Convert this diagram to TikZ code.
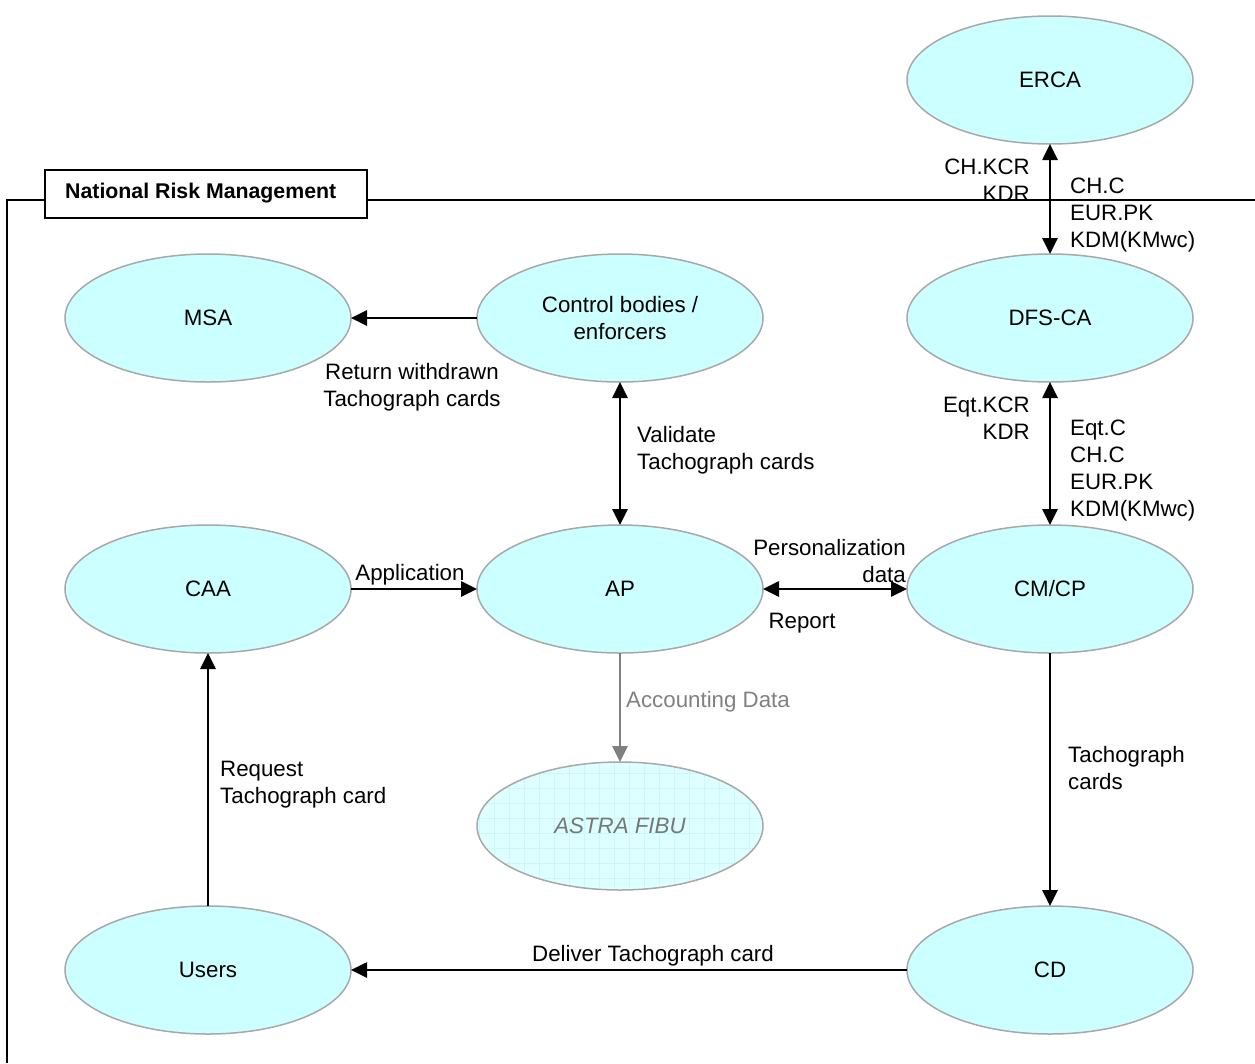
\documentclass[tikz,border=0pt]{standalone}
\usepackage{fontspec}
\setmainfont{Liberation Sans}
\usetikzlibrary{shapes.geometric,arrows.meta}
\definecolor{nodefill}{HTML}{CCFFFF}
\definecolor{nodeline}{HTML}{A8A8A8}
\definecolor{astrafill}{HTML}{DDFFFF}
\definecolor{astragrid}{HTML}{CDF6F6}
\definecolor{grayarrow}{HTML}{808080}
\definecolor{astratext}{HTML}{777777}
\tikzset{
  proc/.style={ellipse, draw=nodeline, line width=1.5pt, fill=nodefill,
    minimum width=286pt, minimum height=128pt, inner sep=0pt, outer sep=0pt, align=center},
  conn/.style={line width=2.7pt, -{Triangle[length=16pt,width=15pt]}},
  biconn/.style={line width=2.7pt, {Triangle[length=16pt,width=15pt]}-{Triangle[length=16pt,width=15pt]}},
  lbl/.style={inner sep=0pt, align=left},
}
\begin{document}
\begin{tikzpicture}[x=1pt,y=-1pt, font=\fontsize{22.3}{27}\selectfont]
\useasboundingbox (0,0) rectangle (1255,1063);
% frame
\draw[line width=1.6pt] (7,1063) -- (7,200) -- (45,200);
\draw[line width=1.6pt] (367,200) -- (1255,200);
\draw[line width=1.6pt] (45,170) rectangle (367,218);
\node[anchor=west, inner sep=0pt, font=\bfseries\fontsize{21.3}{24}\selectfont] (nrm) at (65,193) {National Risk Management};
% nodes
\node[proc] (erca) at (1050,80) {ERCA};
\node[proc] (dfs) at (1050,318) {DFS-CA};
\node[proc] (msa) at (208,318) {MSA};
\node[proc] (ctrl) at (620,318) {Control bodies /\\enforcers};
\node[proc] (caa) at (208,589) {CAA};
\node[proc] (ap) at (620,589) {AP};
\node[proc] (cmcp) at (1050,589) {CM/CP};
\node[proc, draw=nodeline, fill=astrafill, text=astratext, font=\itshape\fontsize{22.3}{27}\selectfont,
  path picture={\draw[astragrid, line width=0.5pt] ([xshift=-2pt,yshift=-2pt]path picture bounding box.south west) grid[step=15pt] (path picture bounding box.north east);}] (astra) at (620,826) {ASTRA FIBU};
\node[proc] (users) at (208,970) {Users};
\node[proc] (cd) at (1050,970) {CD};
% connectors
\draw[biconn] (erca.south) -- (dfs.north);
\draw[biconn] (dfs.south) -- (cmcp.north);
\draw[conn] (ctrl.west) -- (msa.east);
\draw[biconn] (ctrl.south) -- (ap.north);
\draw[conn] (caa.east) -- (ap.west);
\draw[biconn] (ap.east) -- (cmcp.west);
\draw[conn, draw=grayarrow, color=grayarrow] (ap.south) -- (astra.north);
\draw[conn] (cmcp.south) -- (cd.north);
\draw[conn] (users.north) -- (caa.south);
\draw[conn] (cd.west) -- (users.east);
% labels
\node[lbl, anchor=east, align=right] (l1) at (1030,180) {CH.KCR\\KDR};
\node[lbl, anchor=west] (l2) at (1070,215) {CH.C\\EUR.PK\\KDM(KMwc)};
\node[lbl, anchor=east, align=right] (l3) at (1030,418) {Eqt.KCR\\KDR};
\node[lbl, anchor=west] (l4) at (1070,471) {Eqt.C\\CH.C\\EUR.PK\\KDM(KMwc)};
\node[lbl, align=center] (l5) at (412,387) {Return withdrawn\\Tachograph cards};
\node[lbl, anchor=west] (l6) at (637,450) {Validate\\Tachograph cards};
\node[lbl] (l7) at (410,575) {Application};
\node[lbl, anchor=east, align=right] (l8) at (906,561) {Personalization\\data};
\node[lbl] (l9) at (802,623) {Report};
\node[lbl, anchor=west, text=grayarrow] (l10) at (626,702) {Accounting Data};
\node[lbl, anchor=west] (l11) at (1068,768) {Tachograph\\cards};
\node[lbl, anchor=west] (l12) at (220,785) {Request\\Tachograph card};
\node[lbl] (l13) at (653,956) {Deliver Tachograph card};
\end{tikzpicture}
\end{document}
